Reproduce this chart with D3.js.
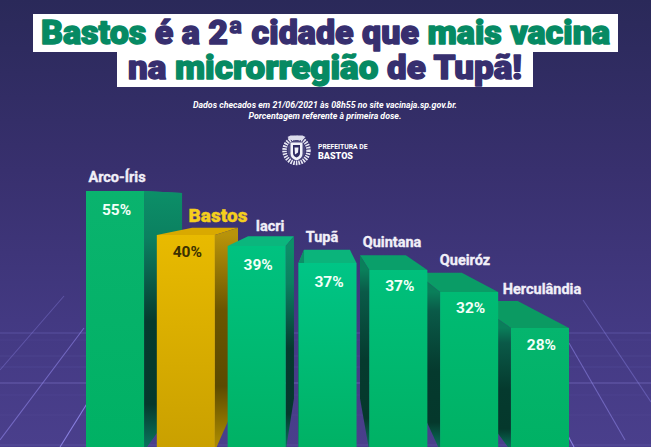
<!DOCTYPE html>
<html><head><meta charset="utf-8">
<script src="https://cdnjs.cloudflare.com/ajax/libs/d3/7.8.5/d3.min.js"></script>
<style>html,body{margin:0;padding:0;background:#2b2a5c;overflow:hidden}svg{display:block}text{font-family:Roboto,sans-serif}</style>
</head><body><svg id="c" width="651" height="447"></svg>
<script>
// DATA
const cities = ["Arco-Íris","Bastos","Iacri","Tupã","Quintana","Queiróz","Herculândia"];
const percents = [55,40,39,37,37,32,28];
// The infographic is not drawn to scale: drawn bar heights
const drawnHeights = [260,216,205,188,181,159,123];
const titleLine1 = [["Bastos","g"],[" é a 2ª cidade que ","p"],["mais vacina","g"]];
const titleLine2 = [["na ","p"],["microrregião","g"],[" de Tupã!","p"]];
const subtitle = ["Dados checados em 21/06/2021 às 08h55 no site vacinaja.sp.gov.br.","Porcentagem referente à primeira dose."];
const logoText = ["PREFEITURA DE","BASTOS"];

// LAYOUT / STYLE
const W=651,H=447,base=451,vp={x:325,y:200},depth=.21;
const labelPos=[[117,182],[218,222],[270,231],[322,242],[392,247],[465,265],[542,294]];
const frontTop=["#0ab36e","#e8ba00","#00c280","#00c586","#00c07c","#00bb74","#05b56e"];
const topFace=["#0c9a6c","#d9a900","#0bb67d","#0bb47b","#0a9f6a","#0a9c66","#0b9a62"];
const bgGrid=[[0,370,64,296],[0,440,84,328],[60,447,88,402],[569,343,625,440],[583,300,651,402],[567,434,574,447]];
const hLines=[[333,.3],[383,.45],[340,.08],[356,.1],[367,.12],[395,.08],[415,.06],[445,.22]];

const svg=d3.select("#c"),defs=svg.append("defs");
const x=d3.scaleBand().domain(cities).range([86,569]).paddingInner(.18).paddingOuter(0);
const y=d3.scaleLinear().domain([0,260]).range([base,191]);
const back=(px,py)=>[px+(vp.x-px)*depth,py+(vp.y-py)*depth];
const poly=a=>a.map(p=>p.join(",")).join(" ");

// background
const bg=defs.append("linearGradient").attr("id","bg").attr("x1",0).attr("x2",0).attr("y1",0).attr("y2",1);
[[0,"#2a2959"],[.38,"#38306e"],[.75,"#443a84"],[1,"#4a3f8c"]].forEach(s=>bg.append("stop").attr("offset",s[0]).attr("stop-color",s[1]));
svg.append("rect").attr("width",W).attr("height",H).attr("fill","url(#bg)");
svg.append("g").selectAll("line").data(hLines).join("line")
 .attr("x1",0).attr("x2",W).attr("y1",d=>d[0]).attr("y2",d=>d[0])
 .attr("stroke","#8f86e0").attr("stroke-opacity",d=>d[1]).attr("stroke-width",1);
svg.append("g").selectAll("line").data(bgGrid).join("line")
 .attr("x1",d=>d[0]).attr("y1",d=>d[1]).attr("x2",d=>d[2]).attr("y2",d=>d[3])
 .attr("stroke","#8f86e8").attr("stroke-opacity",(d,i)=>[.35,.6,.9,.55,.4,.9][i]).attr("stroke-width",1.1);

// bars: painted from the outside in toward the vanishing point
const rows=cities.map((c,i)=>({c,i,p:percents[i],h:drawnHeights[i]}));
function grad(id,y1,stops){
 const g=defs.append("linearGradient").attr("id",id).attr("gradientUnits","userSpaceOnUse")
  .attr("x1",0).attr("x2",0).attr("y1",y1).attr("y2",base);
 stops.forEach(s=>g.append("stop").attr("offset",s[0]).attr("stop-color",s[1]));
}
rows.forEach(d=>{
 const t=y(d.h), yel=d.c==="Bastos";
 grad("f"+d.i,t,[[0,frontTop[d.i]],[1,yel?"#c9a000":"#00b164"]]);
 grad("s"+d.i,t,yel
  ?[[0,"#b8930a"],[.35,"#6b5500"],[.7,"#5c4a00"],[1,"#b49200"]]
  :d.i>3?[[0,"#0a7f5a"],[.12,"#0a5a48"],[.5,"#053a2e"],[.82,"#05382c"],[1,"#0a7a62"]]
  :[[0,"#0c8f68"],[.18,"#0b8060"],[.3,"#0a6650"],[.5,"#053a2e"],[.82,"#05382c"],[1,"#0a7a62"]]);
});
const order=rows.slice().sort((a,b)=>Math.abs(x(b.c)+x.bandwidth()/2-vp.x)-Math.abs(x(a.c)+x.bandwidth()/2-vp.x));
const bars=svg.append("g").selectAll("g").data(order).join("g");
const corners=d=>{const l=x(d.c),r=l+x.bandwidth(),t=y(d.h);return {l,r,t};};
bars.append("polygon").attr("fill",d=>topFace[d.i]).attr("points",d=>{const {l,r,t}=corners(d);return poly([[l,t],[r,t],back(r,t),back(l,t)]);});
// visible side wall: the one facing the vanishing point
bars.append("polygon").attr("fill",d=>`url(#s${d.i})`).attr("points",d=>{
  const {l,r,t}=corners(d);
  const e=(l+r)/2<vp.x?r:l;
  return poly([[e,t],back(e,t),back(e,base),[e,base]]);
});
bars.append("rect").attr("x",d=>x(d.c)).attr("y",d=>y(d.h)).attr("width",x.bandwidth()).attr("height",d=>base-y(d.h)).attr("fill",d=>`url(#f${d.i})`);

// value labels
svg.append("g").selectAll("text").data(rows).join("text")
 .attr("x",d=>x(d.c)+x.bandwidth()/2+1.5).attr("y",d=>y(d.h)+[24,22,24,24,21,21,22][d.i])
 .attr("text-anchor","middle").attr("font-size",15.5).attr("font-weight",700)
 .attr("fill",d=>d.c==="Bastos"?"#3b3000":"#f2fff8").text(d=>d.p+"%");
// city labels
svg.append("g").selectAll("text").data(rows).join("text")
 .attr("x",d=>labelPos[d.i][0]).attr("y",d=>labelPos[d.i][1]).attr("text-anchor","middle")
 .attr("font-size",d=>d.c==="Bastos"?19:14.5).attr("font-weight",d=>d.c==="Bastos"?900:700)
 .attr("stroke",d=>d.c==="Bastos"?"#f5cf1d":"#f1eff8").attr("stroke-width",.35)
 .attr("fill",d=>d.c==="Bastos"?"#f5cf1d":"#f1eff8").text(d=>d.c);

// title
svg.append("rect").attr("x",33).attr("y",14).attr("width",585).attr("height",38).attr("fill","#fff");
svg.append("rect").attr("x",117).attr("y",52).attr("width",416).attr("height",35).attr("fill","#fff");
const tc={g:"#068a63",p:"#372f6f"};
[[titleLine1,41,44,569],[titleLine2,128,79,394]].forEach(([parts,tx,ty,len])=>{
 const t=svg.append("text").attr("x",tx).attr("y",ty).attr("font-size",33).attr("font-weight",900)
  .attr("textLength",len).attr("lengthAdjust","spacingAndGlyphs");
 t.selectAll("tspan").data(parts).join("tspan").attr("fill",d=>tc[d[1]]).attr("stroke",d=>tc[d[1]]).attr("stroke-width",1.4).attr("stroke-linejoin","round").attr("xml:space","preserve").text(d=>d[0]);
});
// subtitle
svg.append("g").selectAll("text").data(subtitle).join("text").attr("x",325).attr("y",(d,i)=>108+i*11)
 .attr("text-anchor","middle").attr("fill","#fff").attr("font-size",8.8).attr("font-style","italic").attr("font-weight",700).text(d=>d);

// logo
const logo=svg.append("g").attr("transform","translate(296.5,150.5)");
logo.append("ellipse").attr("rx",12).attr("ry",12.5).attr("fill","none").attr("stroke","#e8e8f4").attr("stroke-width",4.5).attr("stroke-dasharray","1.6 1");
logo.append("ellipse").attr("rx",9).attr("ry",10).attr("fill","#4e4a80");
logo.append("path").attr("d","M-9,-13.5 L-6,-15 L6,-15 L9,-13.5 L6,-10.5 L-6,-10.5Z").attr("fill","#dcdcec");
logo.append("path").attr("d","M-6,-8 H6 V3 Q6,8 0,10 Q-6,8 -6,3Z").attr("fill","#f2f2fa");
logo.append("path").attr("d","M-3.5,-5.5 H3.5 V2.5 Q3.5,5.5 0,7 Q-3.5,5.5 -3.5,2.5Z").attr("fill","#2f2b63");
logo.append("path").attr("d","M-2,-3 L2,-3 L1.5,2 L-1.5,4Z").attr("fill","#f2f2fa");
svg.append("g").selectAll("text").data(logoText).join("text").attr("x",318).attr("y",(d,i)=>i?159:148.5)
 .attr("fill","#fff").attr("font-weight",d=>d==="BASTOS"?900:700).attr("font-size",d=>d==="BASTOS"?9:6.8).text(d=>d);
</script></body></html>
